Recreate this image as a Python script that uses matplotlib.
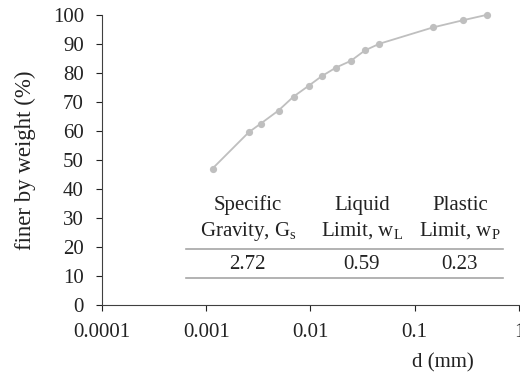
import numpy as np
import matplotlib
matplotlib.use("Agg")
import matplotlib.pyplot as plt

# ============ Data ===================
d_mm = [0.00115, 0.00256, 0.00334, 0.00494, 0.00689, 0.0096, 0.0128,
        0.0176, 0.0244, 0.0333, 0.0459, 0.149, 0.291, 0.499]
finer = [47.0, 59.5, 62.5, 67.0, 71.8, 75.5, 78.8, 81.8, 84.1, 87.7,
         90.0, 95.6, 98.1, 100.0]

headers = ["Specific\nGravity, G$_\\mathregular{s}$",
           "Liquid\nLimit, w$_\\mathregular{L}$",
           "Plastic\nLimit, w$_\\mathregular{P}$"]
values = ["2.72", "0.59", "0.23"]

xticks = [0.0001, 0.001, 0.01, 0.1, 1]
xticklabels = ["0.0001", "0.001", "0.01", "0.1", "1"]
yticks = list(range(0, 101, 10))
# =====================================

plt.rcParams['font.family'] = 'Liberation Serif'
plt.rcParams['mathtext.fontset'] = 'custom'
plt.rcParams['mathtext.rm'] = 'Liberation Serif'
fs = 15

fig = plt.figure(figsize=(5.2, 3.81), dpi=100)
ax = fig.add_axes([0.196, 0.1995, 0.802, 0.7619])

ax.plot(d_mm, finer, color='#BFBFBF', lw=1.3, marker='o', ms=5.2,
        markeredgewidth=0, zorder=3, clip_on=False)

ax.set_xscale('log')
ax.set_xlim(0.0001, 1)
ax.set_ylim(0, 100)
ax.set_xticks(xticks)
ax.set_xticklabels(xticklabels)
ax.minorticks_off()
ax.set_yticks(yticks)
ax.tick_params(labelsize=fs, colors='#222222', length=4, width=0.8,
               direction='out')
ax.tick_params(axis='x', pad=9)
ax.tick_params(axis='y', pad=9)

for s in ['top', 'right']:
    ax.spines[s].set_visible(False)
for s in ['left', 'bottom']:
    ax.spines[s].set_color('#404040')
    ax.spines[s].set_linewidth(0.8)

ax.set_ylabel("finer by weight (%)", fontsize=16.5, color='#222222',
              labelpad=12)
fig.text(443 / 520, 1 - 363 / 381, "d (mm)", fontsize=fs, color='#222222',
         ha='center', va='center')

# table in the plot
col_x = [0.00251, 0.0311, 0.271]
for cx, h in zip(col_x, headers):
    ax.text(cx, 29.6, h, fontsize=fs, ha='center', va='center',
            color='#222222', linespacing=1.35)
for cx, v in zip(col_x, values):
    ax.text(cx, 14.0, v, fontsize=fs, ha='center', va='center',
            color='#222222')
for yl in [19.3, 9.3]:
    ax.plot([0.00064, 0.70], [yl, yl], color='#A6A6A6', lw=1.2, zorder=2)

plt.savefig("out.png", dpi=100)
